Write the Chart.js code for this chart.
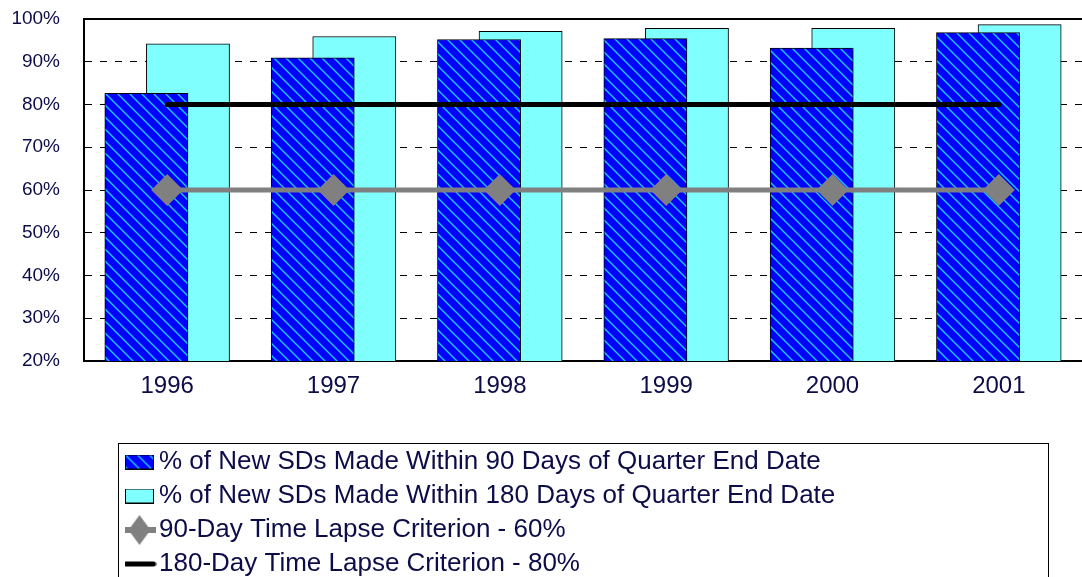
<!DOCTYPE html>
<html>
<head>
<meta charset="utf-8">
<script src="https://cdn.jsdelivr.net/npm/chart.js@4.4.1/dist/chart.umd.min.js"></script>
<style>
  html, body { margin: 0; padding: 0; background: #fff; overflow: hidden; }
  canvas { display: block; }
</style>
</head>
<body>
<canvas id="sd_chart" width="1082" height="587"></canvas>
<script>
// data set
var years = ['1996', '1997', '1998', '1999', '2000', '2001'];
var within_90 = [82.6, 90.9, 95.2, 95.4, 93.2, 96.8];
var within_180 = [94.2, 95.9, 97.1, 97.8, 97.8, 98.7];
var criterion_90 = [60, 60, 60, 60, 60, 60];
var criterion_180 = [80, 80, 80, 80, 80, 80];
var y_ticks = [20, 30, 40, 50, 60, 70, 80, 90, 100];
var series_names = [
  '% of New SDs Made Within 90 Days of Quarter End Date',
  '% of New SDs Made Within 180 Days of Quarter End Date',
  '90-Day Time Lapse Criterion - 60%',
  '180-Day Time Lapse Criterion - 80%'
];

const text_color = '#0c0c48';
Chart.defaults.font.family = "'Liberation Sans', Arial, sans-serif";

// blue fill with light blue diagonal hatching
function hatch(bg, line) {
  var tile = document.createElement('canvas');
  tile.width = 12;
  tile.height = 12;
  var c = tile.getContext('2d');
  c.fillStyle = bg;
  c.fillRect(0, 0, 12, 12);
  c.strokeStyle = line;
  c.lineWidth = 1.4;
  c.beginPath();
  c.moveTo(-2, -2); c.lineTo(14, 14);
  c.moveTo(-2, 10); c.lineTo(2, 14);
  c.moveTo(10, -2); c.lineTo(14, 2);
  c.stroke();
  return c.createPattern(tile, 'repeat');
}
var blue_hatch = hatch('#0000ff', '#1ec8ff');

// small canvases used as legend symbols
function icon(w, h, draw) {
  var cv = document.createElement('canvas');
  cv.width = w;
  cv.height = h;
  draw(cv.getContext('2d'), w, h);
  return cv;
}
function boxIcon(fill) {
  return icon(29, 15, (c, w, h) => {
    c.fillStyle = fill;
    c.fillRect(0, 0, w, h);
    c.strokeStyle = '#000';
    c.lineWidth = 1;
    c.strokeRect(0.5, 0.5, w - 1, h - 1);
  });
}
var legend_icons = [
  boxIcon(blue_hatch),
  boxIcon('#80ffff'),
  icon(32, 30, (c, w, h) => {
    c.strokeStyle = '#808080';
    c.lineWidth = 6;
    c.beginPath(); c.moveTo(0, h / 2); c.lineTo(w, h / 2); c.stroke();
    c.fillStyle = '#808080';
    c.beginPath();
    c.moveTo(w / 2, 0); c.lineTo(w / 2 + 11, h / 2); c.lineTo(w / 2, h); c.lineTo(w / 2 - 11, h / 2);
    c.closePath(); c.fill();
  }),
  icon(34, 8, (c, w, h) => {
    c.strokeStyle = '#000';
    c.lineWidth = 5;
    c.lineCap = 'round';
    c.beginPath(); c.moveTo(3, h / 2); c.lineTo(w - 3, h / 2); c.stroke();
  })
];

// legend: one entry per row, indented, inside a framed box
const LEGEND_WIDTH = 760;
const legend_frame = {
  id: 'legend_frame',
  beforeLayout(chart) {
    var lg = chart.legend;
    if (!lg._narrow) {
      var fit = lg.fit;
      lg.fit = function () {
        this.maxWidth = LEGEND_WIDTH;
        return fit.call(this);
      };
      lg._narrow = true;
    }
  },
  afterLayout(chart) {
    var lg = chart.legend;
    lg.left = 125;
    lg.width = LEGEND_WIDTH;
    lg.right = lg.left + LEGEND_WIDTH;
  },
  afterDraw(chart) {
    var lg = chart.legend;
    var ctx = chart.ctx;
    ctx.save();
    ctx.strokeStyle = '#000';
    ctx.lineWidth = 1;
    ctx.strokeRect(118.5, lg.top + 2.5, 930, 300);
    ctx.restore();
  }
};

function noSidePadding(axis) {
  axis.paddingLeft = 0;
  axis.paddingRight = 0;
}

new Chart('sd_chart', {
  type: 'bar',
  data: {
    labels: years,
    datasets: [{
      type: 'bar',
      label: series_names[0],
      data: within_90,
      backgroundColor: blue_hatch,
      borderColor: '#000',
      borderWidth: 1,
      categoryPercentage: 0.5,
      barPercentage: 2,
      order: 1
    }, {
      type: 'bar',
      label: series_names[1],
      data: within_180,
      backgroundColor: '#80ffff',
      borderColor: '#000',
      borderWidth: 1,
      categoryPercentage: 0.5,
      barPercentage: 2,
      order: 2
    }, {
      type: 'line',
      label: series_names[2],
      data: criterion_90,
      borderColor: '#808080',
      borderWidth: 5,
      pointStyle: 'rectRot',
      pointRadius: 16,
      pointBackgroundColor: '#808080',
      pointBorderColor: '#808080',
      pointBorderWidth: 0,
      order: 0
    }, {
      type: 'line',
      label: series_names[3],
      data: criterion_180,
      borderColor: '#000',
      borderWidth: 5,
      borderCapStyle: 'round',
      pointRadius: 0,
      order: 0
    }]
  },
  options: {
    responsive: false,
    animation: false,
    devicePixelRatio: 1,
    layout: { autoPadding: false, padding: { top: 19, right: 0, bottom: 0, left: 0 } },
    scales: {
      x: {
        afterFit: axis => { axis.height = 80; noSidePadding(axis); },
        grid: { display: false, drawTicks: false },
        border: { color: '#000', width: 2 },
        ticks: { font: { size: 24 }, color: text_color, padding: 11 }
      },
      x2: {
        type: 'category',
        position: 'top',
        labels: years,
        afterFit: axis => { axis.height = 0; noSidePadding(axis); },
        grid: { display: false, drawTicks: false },
        border: { color: '#000', width: 2 },
        ticks: { display: false }
      },
      y: {
        min: 20,
        max: 100,
        afterBuildTicks: axis => { axis.ticks = y_ticks.map(v => ({ value: v })); },
        afterFit: axis => {
          axis.width = 84;
          axis.paddingTop = 0;
          axis.paddingBottom = 0;
        },
        ticks: { font: { size: 19 }, color: text_color, padding: 24, callback: v => v + '%' },
        grid: {
          drawTicks: false,
          lineWidth: 1,
          color: c => (c.tick && (c.tick.value === 20 || c.tick.value === 100)) ? 'rgba(0,0,0,0)' : '#000'
        },
        border: { color: '#000', width: 2, dash: [7, 8] }
      }
    },
    plugins: {
      tooltip: { enabled: false },
      legend: {
        position: 'bottom',
        align: 'start',
        labels: {
          font: { size: 26 },
          color: text_color,
          padding: 8,
          usePointStyle: true,
          pointStyleWidth: 13,
          generateLabels: chart => chart.data.datasets.map((ds, i) => ({
            text: ds.label,
            fontColor: text_color,
            pointStyle: legend_icons[i],
            fillStyle: 'rgba(0,0,0,0)',
            strokeStyle: 'rgba(0,0,0,0)',
            lineWidth: 0,
            hidden: false,
            datasetIndex: i
          }))
        }
      }
    }
  },
  plugins: [legend_frame]
});
</script>
</body>
</html>
